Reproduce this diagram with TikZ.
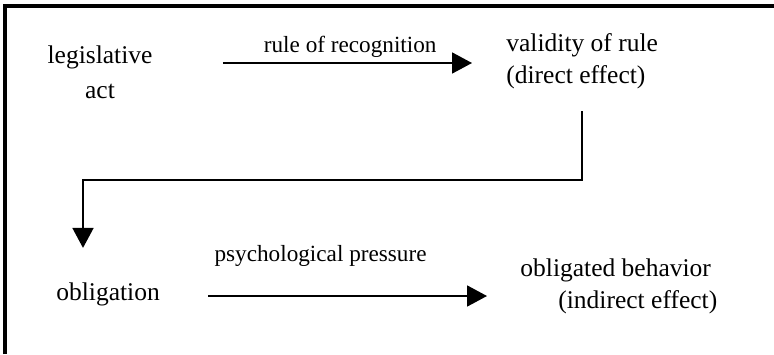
\documentclass[tikz,border=0pt]{standalone}
\usepackage{fontspec}
\setmainfont{Liberation Serif}
\usetikzlibrary{arrows.meta}

\begin{document}
\begin{tikzpicture}[x=0.5pt,y=-0.5pt]
	\tikzset{txt/.style={inner sep=0pt, font=\fontsize{12.75pt}{16pt}\selectfont}}
	\tikzset{lbl/.style={inner sep=0pt, font=\fontsize{11.6pt}{14pt}\selectfont}}
	\tikzset{flow/.style={line width=0.9pt, -{Triangle[length=10pt,width=10.5pt]}}}
	\useasboundingbox (0,0) rectangle (774,354);
	%frame
	\draw[line width=2pt] (5,354) -- (5,6) -- (774,6);
	%statements
	\node[txt, align=center] (leg) at (100,72) {legislative\\[1.5pt]act};
	\node[txt, align=left, anchor=west] (valid) at (506,61) {validity of rule\\(direct effect)};
	\node[txt, anchor=base west] (obl) at (56,300) {obligation};
	\node[txt, align=left, anchor=west] (obb) at (520,286) {obligated behavior\\\hspace*{19pt}(indirect effect)};
	%connectors
	\coordinate (a1) at ([shift={(70,-9)}]leg.east);
	\coordinate (a2) at ([shift={(48,-4)}]obl.base east);
	\coordinate (bend) at (83,180);
	\draw[flow, shorten >=17pt] (a1) -- node[lbl, pos=0.45, above=2.5pt] (rec) {rule of recognition} (a1 -| valid.west);
	\draw[flow, shorten <=11pt, shorten >=17pt] (valid.south) |- (bend) -- (bend |- obl.north);
	\draw[flow, shorten >=16.5pt] (a2) -- (a2 -| obb.west);
	\node[lbl, anchor=base west] (psy) at ([shift={(6,-35)}]a2) {psychological pressure};
\end{tikzpicture}
\end{document}
